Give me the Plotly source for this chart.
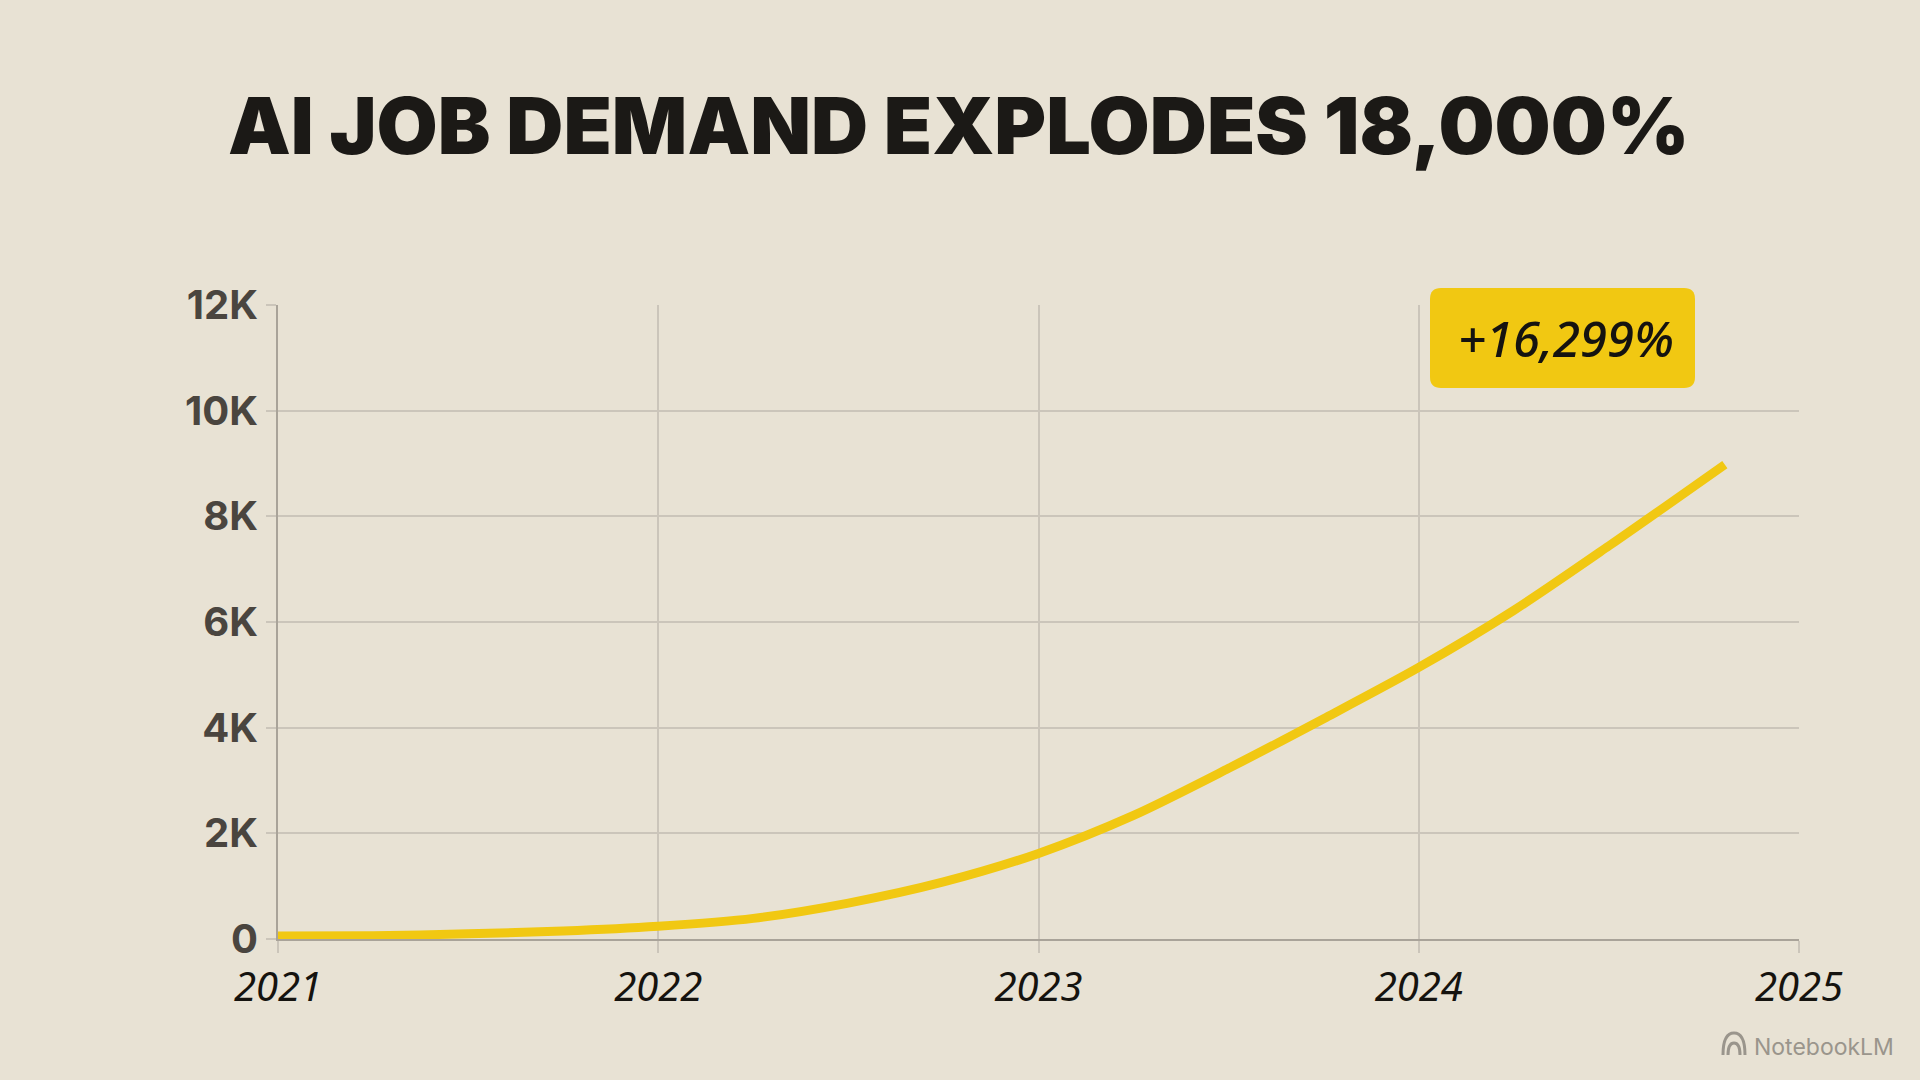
import plotly.graph_objects as go

# quarterly AI job postings
years = [2021.0, 2021.25, 2021.5, 2021.75, 2022.0, 2022.25, 2022.5, 2022.75,
         2023.0, 2023.25, 2023.5, 2023.75, 2024.0, 2024.25, 2024.5, 2024.805]
postings = [55, 62, 98, 150, 240, 390, 680, 1080,
            1620, 2340, 3230, 4170, 5140, 6220, 7440, 8980]

x_ticks = [2021, 2022, 2023, 2024, 2025]
x_labels = ["2021", "2022", "2023", "2024", "2025"]
y_ticks = [0, 2000, 4000, 6000, 8000, 10000, 12000]
y_labels = ["0", "2K", "4K", "6K", "8K", "10K", "12K"]

title = "AI JOB DEMAND EXPLODES 18,000%"
callout = "+16,299%"

W, H = 1920, 1080
L, R, T, B = 278, 121, 305, 141
pw, ph = W - L - R, H - T - B

bg = "#E8E2D4"
grid = "#CBC5BA"
axis = "#A9A399"
gold = "#F1C812"
mute = "#9A958C"


def px_x(p):
    return (p - L) / pw


def px_y(p):
    return (H - B - p) / ph


fig = go.Figure()
fig.add_trace(go.Scatter(
    x=years, y=postings, mode="lines",
    line=dict(color=gold, width=9, shape="spline", smoothing=0.8),
    hoverinfo="skip", showlegend=False,
))

# rounded callout box
x0, x1 = px_x(1430), px_x(1695)
y0, y1 = px_y(388), px_y(288)
rx, ry = 11 / pw, 11 / ph
box = (f"M {x0+rx},{y0} L {x1-rx},{y0} Q {x1},{y0} {x1},{y0+ry} "
       f"L {x1},{y1-ry} Q {x1},{y1} {x1-rx},{y1} L {x0+rx},{y1} "
       f"Q {x0},{y1} {x0},{y1-ry} L {x0},{y0+ry} Q {x0},{y0} {x0+rx},{y0} Z")
fig.add_shape(type="path", path=box, xref="paper", yref="paper",
              fillcolor=gold, line=dict(width=0), layer="above")

fig.add_annotation(
    x=(x0 + x1) / 2 + 0.002, y=(y0 + y1) / 2, xref="paper", yref="paper",
    xanchor="center", yanchor="middle",
    text=callout, showarrow=False,
    font=dict(family="Noto Sans", size=49, color="#151310", style="italic", weight=500),
)
fig.add_annotation(
    x=px_x(958), y=px_y(125), xref="paper", yref="paper",
    xanchor="center", yanchor="middle",
    text=title, showarrow=False,
    font=dict(family="Inter", size=79, color="#1B1916", weight=900),
)
fig.add_annotation(
    x=px_x(1896), y=px_y(1047), xref="paper", yref="paper",
    xanchor="right", yanchor="middle",
    text="NotebookLM", showarrow=False,
    font=dict(family="Inter", size=23, color=mute),
)

# little NotebookLM arches
for r in (11, 6):
    cx, base = 1734, 1055
    arch = (f"M {px_x(cx-r)},{px_y(base)} Q {px_x(cx-r)},{px_y(base-2*r)} "
            f"{px_x(cx)},{px_y(base-2*r)} Q {px_x(cx+r)},{px_y(base-2*r)} "
            f"{px_x(cx+r)},{px_y(base)}")
    fig.add_shape(type="path", path=arch, xref="paper", yref="paper",
                  line=dict(color=mute, width=3))

fig.update_layout(
    width=W, height=H,
    margin=dict(l=L, r=R, t=T, b=B),
    paper_bgcolor=bg, plot_bgcolor=bg,
    xaxis=dict(
        range=[2021, 2025], tickvals=x_ticks, ticktext=x_labels,
        showgrid=True, gridcolor=grid, gridwidth=2,
        showline=True, linecolor=axis, linewidth=2,
        ticks="outside", ticklen=12, tickcolor=grid, tickwidth=2,
        zeroline=False,
        tickfont=dict(family="Noto Sans", size=40, color="#15130F", style="italic"),
    ),
    yaxis=dict(
        range=[0, 12000], tickvals=y_ticks, ticktext=y_labels,
        showgrid=True, gridcolor=grid, gridwidth=2,
        showline=True, linecolor=axis, linewidth=2,
        ticks="outside", ticklen=10, tickcolor=grid, tickwidth=2,
        zeroline=False,
        tickfont=dict(family="Inter", size=40, color="#4A453F", weight=700),
    ),
)

fig.write_html("out.html", config={"displayModeBar": False},
               post_script="document.body.style.margin='0px';")
